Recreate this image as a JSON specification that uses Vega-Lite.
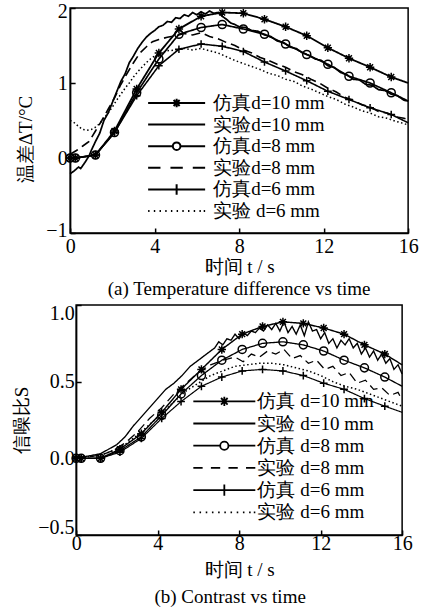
{
  "$schema": "https://vega.github.io/schema/vega-lite/v6.json",
  "padding": {"left": 12, "top": 0, "right": 5, "bottom": 0},
  "spacing": 2,
  "center": true,
  "config": {
    "font": "Liberation Serif",
    "view": {"stroke": "black", "strokeWidth": 1.5},
    "axis": {"domainColor": "black", "domainWidth": 1.5, "tickColor": "black", "tickWidth": 1.5, "tickSize": -5, "labelColor": "black", "titleColor": "black", "labelFont": "Liberation Serif", "titleFont": "Liberation Serif", "labelFontSize": 20, "titleFontSize": 19, "titleFontWeight": "normal", "grid": false, "labelFlush": false, "labelPadding": 8},
    "title": {"font": "Liberation Serif", "fontSize": 19, "fontWeight": "normal", "color": "black"}
  },
  "datasets": {
    "top": [
      {"s": "仿真d=10 mm", "t": 0, "v": 0}, {"s": "仿真d=10 mm", "t": 0.25, "v": 0}, {"s": "仿真d=10 mm", "t": 1.2, "v": 0.04}, {"s": "仿真d=10 mm", "t": 2.1, "v": 0.36}, {"s": "仿真d=10 mm", "t": 3.15, "v": 0.92}, {"s": "仿真d=10 mm", "t": 4.2, "v": 1.4}, {"s": "仿真d=10 mm", "t": 5.15, "v": 1.72}, {"s": "仿真d=10 mm", "t": 6.2, "v": 1.89}, {"s": "仿真d=10 mm", "t": 7.2, "v": 1.94}, {"s": "仿真d=10 mm", "t": 8.2, "v": 1.93}, {"s": "仿真d=10 mm", "t": 9.2, "v": 1.85}, {"s": "仿真d=10 mm", "t": 10.2, "v": 1.75}, {"s": "仿真d=10 mm", "t": 11.2, "v": 1.63}, {"s": "仿真d=10 mm", "t": 12.2, "v": 1.47}, {"s": "仿真d=10 mm", "t": 13.2, "v": 1.33}, {"s": "仿真d=10 mm", "t": 14.2, "v": 1.21}, {"s": "仿真d=10 mm", "t": 15.2, "v": 1.08}, {"s": "仿真d=10 mm", "t": 16, "v": 1.0},
      {"s": "仿真d=8 mm", "t": 0, "v": 0}, {"s": "仿真d=8 mm", "t": 0.25, "v": 0}, {"s": "仿真d=8 mm", "t": 1.2, "v": 0.04}, {"s": "仿真d=8 mm", "t": 2.1, "v": 0.34}, {"s": "仿真d=8 mm", "t": 3.15, "v": 0.87}, {"s": "仿真d=8 mm", "t": 4.2, "v": 1.32}, {"s": "仿真d=8 mm", "t": 5.15, "v": 1.65}, {"s": "仿真d=8 mm", "t": 6.2, "v": 1.74}, {"s": "仿真d=8 mm", "t": 7.2, "v": 1.78}, {"s": "仿真d=8 mm", "t": 8.2, "v": 1.72}, {"s": "仿真d=8 mm", "t": 9.2, "v": 1.65}, {"s": "仿真d=8 mm", "t": 10.2, "v": 1.52}, {"s": "仿真d=8 mm", "t": 11.2, "v": 1.38}, {"s": "仿真d=8 mm", "t": 12.2, "v": 1.25}, {"s": "仿真d=8 mm", "t": 13.2, "v": 1.09}, {"s": "仿真d=8 mm", "t": 14.2, "v": 1.0}, {"s": "仿真d=8 mm", "t": 15.2, "v": 0.87}, {"s": "仿真d=8 mm", "t": 16, "v": 0.76},
      {"s": "仿真d=6 mm", "t": 0, "v": 0}, {"s": "仿真d=6 mm", "t": 0.25, "v": 0}, {"s": "仿真d=6 mm", "t": 1.2, "v": 0.04}, {"s": "仿真d=6 mm", "t": 2.1, "v": 0.34}, {"s": "仿真d=6 mm", "t": 3.15, "v": 0.83}, {"s": "仿真d=6 mm", "t": 4.2, "v": 1.23}, {"s": "仿真d=6 mm", "t": 5.15, "v": 1.45}, {"s": "仿真d=6 mm", "t": 6.2, "v": 1.52}, {"s": "仿真d=6 mm", "t": 7.2, "v": 1.49}, {"s": "仿真d=6 mm", "t": 8.2, "v": 1.42}, {"s": "仿真d=6 mm", "t": 9.2, "v": 1.28}, {"s": "仿真d=6 mm", "t": 10.2, "v": 1.16}, {"s": "仿真d=6 mm", "t": 11.2, "v": 1.03}, {"s": "仿真d=6 mm", "t": 12.2, "v": 0.89}, {"s": "仿真d=6 mm", "t": 13.2, "v": 0.78}, {"s": "仿真d=6 mm", "t": 14.2, "v": 0.67}, {"s": "仿真d=6 mm", "t": 15.2, "v": 0.58}, {"s": "仿真d=6 mm", "t": 16, "v": 0.47},
      {"s": "实验d=10 mm", "t": 0, "v": -0.21}, {"s": "实验d=10 mm", "t": 0.2, "v": -0.17}, {"s": "实验d=10 mm", "t": 0.4, "v": -0.12}, {"s": "实验d=10 mm", "t": 0.5, "v": -0.14}, {"s": "实验d=10 mm", "t": 0.7, "v": -0.06}, {"s": "实验d=10 mm", "t": 0.9, "v": 0.03}, {"s": "实验d=10 mm", "t": 1.0, "v": 0.1}, {"s": "实验d=10 mm", "t": 1.2, "v": 0.22}, {"s": "实验d=10 mm", "t": 1.4, "v": 0.33}, {"s": "实验d=10 mm", "t": 1.6, "v": 0.5}, {"s": "实验d=10 mm", "t": 1.8, "v": 0.6}, {"s": "实验d=10 mm", "t": 2.0, "v": 0.74}, {"s": "实验d=10 mm", "t": 2.2, "v": 0.88}, {"s": "实验d=10 mm", "t": 2.4, "v": 1.02}, {"s": "实验d=10 mm", "t": 2.6, "v": 1.12}, {"s": "实验d=10 mm", "t": 2.8, "v": 1.27}, {"s": "实验d=10 mm", "t": 3.0, "v": 1.36}, {"s": "实验d=10 mm", "t": 3.2, "v": 1.46}, {"s": "实验d=10 mm", "t": 3.4, "v": 1.54}, {"s": "实验d=10 mm", "t": 3.6, "v": 1.61}, {"s": "实验d=10 mm", "t": 3.8, "v": 1.66}, {"s": "实验d=10 mm", "t": 4.0, "v": 1.7}, {"s": "实验d=10 mm", "t": 4.2, "v": 1.75}, {"s": "实验d=10 mm", "t": 4.4, "v": 1.77}, {"s": "实验d=10 mm", "t": 4.6, "v": 1.82}, {"s": "实验d=10 mm", "t": 4.8, "v": 1.81}, {"s": "实验d=10 mm", "t": 5.0, "v": 1.87}, {"s": "实验d=10 mm", "t": 5.2, "v": 1.86}, {"s": "实验d=10 mm", "t": 5.4, "v": 1.91}, {"s": "实验d=10 mm", "t": 5.6, "v": 1.89}, {"s": "实验d=10 mm", "t": 5.8, "v": 1.94}, {"s": "实验d=10 mm", "t": 6.0, "v": 1.91}, {"s": "实验d=10 mm", "t": 6.2, "v": 1.95}, {"s": "实验d=10 mm", "t": 6.4, "v": 1.92}, {"s": "实验d=10 mm", "t": 6.6, "v": 1.96}, {"s": "实验d=10 mm", "t": 6.8, "v": 1.93}, {"s": "实验d=10 mm", "t": 7.0, "v": 1.94}, {"s": "实验d=10 mm", "t": 7.2, "v": 1.89}, {"s": "实验d=10 mm", "t": 7.4, "v": 1.85}, {"s": "实验d=10 mm", "t": 7.6, "v": 1.8}, {"s": "实验d=10 mm", "t": 7.8, "v": 1.78}, {"s": "实验d=10 mm", "t": 8.0, "v": 1.75}, {"s": "实验d=10 mm", "t": 8.3, "v": 1.74}, {"s": "实验d=10 mm", "t": 8.6, "v": 1.7}, {"s": "实验d=10 mm", "t": 8.9, "v": 1.69}, {"s": "实验d=10 mm", "t": 9.2, "v": 1.64}, {"s": "实验d=10 mm", "t": 9.5, "v": 1.62}, {"s": "实验d=10 mm", "t": 9.8, "v": 1.56}, {"s": "实验d=10 mm", "t": 10.1, "v": 1.54}, {"s": "实验d=10 mm", "t": 10.4, "v": 1.48}, {"s": "实验d=10 mm", "t": 10.7, "v": 1.46}, {"s": "实验d=10 mm", "t": 11.0, "v": 1.4}, {"s": "实验d=10 mm", "t": 11.3, "v": 1.37}, {"s": "实验d=10 mm", "t": 11.6, "v": 1.32}, {"s": "实验d=10 mm", "t": 11.9, "v": 1.3}, {"s": "实验d=10 mm", "t": 12.2, "v": 1.23}, {"s": "实验d=10 mm", "t": 12.5, "v": 1.21}, {"s": "实验d=10 mm", "t": 12.8, "v": 1.14}, {"s": "实验d=10 mm", "t": 13.1, "v": 1.11}, {"s": "实验d=10 mm", "t": 13.4, "v": 1.05}, {"s": "实验d=10 mm", "t": 13.7, "v": 1.04}, {"s": "实验d=10 mm", "t": 14.0, "v": 0.98}, {"s": "实验d=10 mm", "t": 14.3, "v": 0.97}, {"s": "实验d=10 mm", "t": 14.6, "v": 0.91}, {"s": "实验d=10 mm", "t": 14.9, "v": 0.9}, {"s": "实验d=10 mm", "t": 15.2, "v": 0.85}, {"s": "实验d=10 mm", "t": 15.5, "v": 0.83}, {"s": "实验d=10 mm", "t": 15.8, "v": 0.77}, {"s": "实验d=10 mm", "t": 16, "v": 0.76},
      {"s": "实验d=8 mm", "t": 0, "v": 0.05}, {"s": "实验d=8 mm", "t": 0.3, "v": 0.1}, {"s": "实验d=8 mm", "t": 0.6, "v": 0.16}, {"s": "实验d=8 mm", "t": 0.9, "v": 0.22}, {"s": "实验d=8 mm", "t": 1.2, "v": 0.36}, {"s": "实验d=8 mm", "t": 1.5, "v": 0.5}, {"s": "实验d=8 mm", "t": 1.8, "v": 0.65}, {"s": "实验d=8 mm", "t": 2.1, "v": 0.8}, {"s": "实验d=8 mm", "t": 2.4, "v": 0.98}, {"s": "实验d=8 mm", "t": 2.7, "v": 1.13}, {"s": "实验d=8 mm", "t": 3.0, "v": 1.27}, {"s": "实验d=8 mm", "t": 3.3, "v": 1.4}, {"s": "实验d=8 mm", "t": 3.6, "v": 1.48}, {"s": "实验d=8 mm", "t": 3.9, "v": 1.55}, {"s": "实验d=8 mm", "t": 4.2, "v": 1.58}, {"s": "实验d=8 mm", "t": 4.6, "v": 1.61}, {"s": "实验d=8 mm", "t": 5.0, "v": 1.63}, {"s": "实验d=8 mm", "t": 5.4, "v": 1.66}, {"s": "实验d=8 mm", "t": 5.8, "v": 1.64}, {"s": "实验d=8 mm", "t": 6.2, "v": 1.67}, {"s": "实验d=8 mm", "t": 6.6, "v": 1.62}, {"s": "实验d=8 mm", "t": 7.0, "v": 1.59}, {"s": "实验d=8 mm", "t": 7.4, "v": 1.54}, {"s": "实验d=8 mm", "t": 7.8, "v": 1.5}, {"s": "实验d=8 mm", "t": 8.2, "v": 1.44}, {"s": "实验d=8 mm", "t": 8.6, "v": 1.4}, {"s": "实验d=8 mm", "t": 9.0, "v": 1.34}, {"s": "实验d=8 mm", "t": 9.4, "v": 1.3}, {"s": "实验d=8 mm", "t": 9.8, "v": 1.25}, {"s": "实验d=8 mm", "t": 10.2, "v": 1.21}, {"s": "实验d=8 mm", "t": 10.6, "v": 1.15}, {"s": "实验d=8 mm", "t": 11.0, "v": 1.11}, {"s": "实验d=8 mm", "t": 11.4, "v": 1.05}, {"s": "实验d=8 mm", "t": 11.8, "v": 1.0}, {"s": "实验d=8 mm", "t": 12.2, "v": 0.93}, {"s": "实验d=8 mm", "t": 12.6, "v": 0.88}, {"s": "实验d=8 mm", "t": 13.0, "v": 0.81}, {"s": "实验d=8 mm", "t": 13.4, "v": 0.77}, {"s": "实验d=8 mm", "t": 13.8, "v": 0.71}, {"s": "实验d=8 mm", "t": 14.2, "v": 0.68}, {"s": "实验d=8 mm", "t": 14.6, "v": 0.62}, {"s": "实验d=8 mm", "t": 15.0, "v": 0.6}, {"s": "实验d=8 mm", "t": 15.4, "v": 0.55}, {"s": "实验d=8 mm", "t": 15.8, "v": 0.53}, {"s": "实验d=8 mm", "t": 16, "v": 0.51},
      {"s": "实验 d=6 mm", "t": 0, "v": 0.5}, {"s": "实验 d=6 mm", "t": 0.2, "v": 0.47}, {"s": "实验 d=6 mm", "t": 0.4, "v": 0.42}, {"s": "实验 d=6 mm", "t": 0.6, "v": 0.38}, {"s": "实验 d=6 mm", "t": 0.8, "v": 0.37}, {"s": "实验 d=6 mm", "t": 1.0, "v": 0.38}, {"s": "实验 d=6 mm", "t": 1.2, "v": 0.41}, {"s": "实验 d=6 mm", "t": 1.4, "v": 0.46}, {"s": "实验 d=6 mm", "t": 1.6, "v": 0.53}, {"s": "实验 d=6 mm", "t": 1.8, "v": 0.6}, {"s": "实验 d=6 mm", "t": 2.0, "v": 0.68}, {"s": "实验 d=6 mm", "t": 2.2, "v": 0.77}, {"s": "实验 d=6 mm", "t": 2.4, "v": 0.85}, {"s": "实验 d=6 mm", "t": 2.6, "v": 0.93}, {"s": "实验 d=6 mm", "t": 2.8, "v": 1.0}, {"s": "实验 d=6 mm", "t": 3.0, "v": 1.08}, {"s": "实验 d=6 mm", "t": 3.2, "v": 1.15}, {"s": "实验 d=6 mm", "t": 3.4, "v": 1.21}, {"s": "实验 d=6 mm", "t": 3.6, "v": 1.27}, {"s": "实验 d=6 mm", "t": 3.8, "v": 1.32}, {"s": "实验 d=6 mm", "t": 4.0, "v": 1.36}, {"s": "实验 d=6 mm", "t": 4.3, "v": 1.4}, {"s": "实验 d=6 mm", "t": 4.6, "v": 1.43}, {"s": "实验 d=6 mm", "t": 5.0, "v": 1.44}, {"s": "实验 d=6 mm", "t": 5.4, "v": 1.46}, {"s": "实验 d=6 mm", "t": 5.8, "v": 1.44}, {"s": "实验 d=6 mm", "t": 6.2, "v": 1.46}, {"s": "实验 d=6 mm", "t": 6.6, "v": 1.43}, {"s": "实验 d=6 mm", "t": 7.0, "v": 1.4}, {"s": "实验 d=6 mm", "t": 7.4, "v": 1.35}, {"s": "实验 d=6 mm", "t": 7.8, "v": 1.3}, {"s": "实验 d=6 mm", "t": 8.2, "v": 1.26}, {"s": "实验 d=6 mm", "t": 8.6, "v": 1.22}, {"s": "实验 d=6 mm", "t": 9.0, "v": 1.18}, {"s": "实验 d=6 mm", "t": 9.4, "v": 1.13}, {"s": "实验 d=6 mm", "t": 9.8, "v": 1.1}, {"s": "实验 d=6 mm", "t": 10.2, "v": 1.05}, {"s": "实验 d=6 mm", "t": 10.6, "v": 1.02}, {"s": "实验 d=6 mm", "t": 11.0, "v": 0.96}, {"s": "实验 d=6 mm", "t": 11.4, "v": 0.92}, {"s": "实验 d=6 mm", "t": 11.8, "v": 0.87}, {"s": "实验 d=6 mm", "t": 12.2, "v": 0.82}, {"s": "实验 d=6 mm", "t": 12.6, "v": 0.78}, {"s": "实验 d=6 mm", "t": 13.0, "v": 0.72}, {"s": "实验 d=6 mm", "t": 13.4, "v": 0.68}, {"s": "实验 d=6 mm", "t": 13.8, "v": 0.63}, {"s": "实验 d=6 mm", "t": 14.2, "v": 0.6}, {"s": "实验 d=6 mm", "t": 14.6, "v": 0.55}, {"s": "实验 d=6 mm", "t": 15.0, "v": 0.53}, {"s": "实验 d=6 mm", "t": 15.4, "v": 0.49}, {"s": "实验 d=6 mm", "t": 15.8, "v": 0.46}, {"s": "实验 d=6 mm", "t": 16, "v": 0.44}
    ],
    "bottom": [
      {"s": "仿真 d=10 mm", "t": 0, "v": 0}, {"s": "仿真 d=10 mm", "t": 0.25, "v": 0}, {"s": "仿真 d=10 mm", "t": 1.2, "v": 0}, {"s": "仿真 d=10 mm", "t": 2.15, "v": 0.06}, {"s": "仿真 d=10 mm", "t": 3.2, "v": 0.16}, {"s": "仿真 d=10 mm", "t": 4.2, "v": 0.3}, {"s": "仿真 d=10 mm", "t": 5.15, "v": 0.45}, {"s": "仿真 d=10 mm", "t": 6.15, "v": 0.58}, {"s": "仿真 d=10 mm", "t": 7.15, "v": 0.71}, {"s": "仿真 d=10 mm", "t": 8.15, "v": 0.81}, {"s": "仿真 d=10 mm", "t": 9.15, "v": 0.86}, {"s": "仿真 d=10 mm", "t": 10.15, "v": 0.89}, {"s": "仿真 d=10 mm", "t": 11.15, "v": 0.88}, {"s": "仿真 d=10 mm", "t": 12.15, "v": 0.85}, {"s": "仿真 d=10 mm", "t": 13.15, "v": 0.81}, {"s": "仿真 d=10 mm", "t": 14.15, "v": 0.74}, {"s": "仿真 d=10 mm", "t": 15.15, "v": 0.68}, {"s": "仿真 d=10 mm", "t": 16, "v": 0.61},
      {"s": "仿真 d=8 mm", "t": 0, "v": 0}, {"s": "仿真 d=8 mm", "t": 0.25, "v": 0}, {"s": "仿真 d=8 mm", "t": 1.2, "v": 0}, {"s": "仿真 d=8 mm", "t": 2.15, "v": 0.05}, {"s": "仿真 d=8 mm", "t": 3.2, "v": 0.14}, {"s": "仿真 d=8 mm", "t": 4.2, "v": 0.28}, {"s": "仿真 d=8 mm", "t": 5.15, "v": 0.42}, {"s": "仿真 d=8 mm", "t": 6.15, "v": 0.54}, {"s": "仿真 d=8 mm", "t": 7.15, "v": 0.64}, {"s": "仿真 d=8 mm", "t": 8.15, "v": 0.71}, {"s": "仿真 d=8 mm", "t": 9.15, "v": 0.75}, {"s": "仿真 d=8 mm", "t": 10.15, "v": 0.76}, {"s": "仿真 d=8 mm", "t": 11.15, "v": 0.74}, {"s": "仿真 d=8 mm", "t": 12.15, "v": 0.7}, {"s": "仿真 d=8 mm", "t": 13.15, "v": 0.64}, {"s": "仿真 d=8 mm", "t": 14.15, "v": 0.59}, {"s": "仿真 d=8 mm", "t": 15.15, "v": 0.53}, {"s": "仿真 d=8 mm", "t": 16, "v": 0.47},
      {"s": "仿真 d=6 mm", "t": 0, "v": 0}, {"s": "仿真 d=6 mm", "t": 0.25, "v": 0}, {"s": "仿真 d=6 mm", "t": 1.2, "v": 0}, {"s": "仿真 d=6 mm", "t": 2.15, "v": 0.04}, {"s": "仿真 d=6 mm", "t": 3.2, "v": 0.13}, {"s": "仿真 d=6 mm", "t": 4.2, "v": 0.26}, {"s": "仿真 d=6 mm", "t": 5.15, "v": 0.37}, {"s": "仿真 d=6 mm", "t": 6.15, "v": 0.47}, {"s": "仿真 d=6 mm", "t": 7.15, "v": 0.53}, {"s": "仿真 d=6 mm", "t": 8.15, "v": 0.57}, {"s": "仿真 d=6 mm", "t": 9.15, "v": 0.58}, {"s": "仿真 d=6 mm", "t": 10.15, "v": 0.57}, {"s": "仿真 d=6 mm", "t": 11.15, "v": 0.54}, {"s": "仿真 d=6 mm", "t": 12.15, "v": 0.49}, {"s": "仿真 d=6 mm", "t": 13.15, "v": 0.45}, {"s": "仿真 d=6 mm", "t": 14.15, "v": 0.39}, {"s": "仿真 d=6 mm", "t": 15.15, "v": 0.34}, {"s": "仿真 d=6 mm", "t": 16, "v": 0.3},
      {"s": "实验 d=10 mm", "t": 0, "v": 0}, {"s": "实验 d=10 mm", "t": 0.4, "v": 0.01}, {"s": "实验 d=10 mm", "t": 0.8, "v": 0.02}, {"s": "实验 d=10 mm", "t": 1.2, "v": 0.03}, {"s": "实验 d=10 mm", "t": 1.6, "v": 0.06}, {"s": "实验 d=10 mm", "t": 2.0, "v": 0.09}, {"s": "实验 d=10 mm", "t": 2.4, "v": 0.14}, {"s": "实验 d=10 mm", "t": 2.8, "v": 0.21}, {"s": "实验 d=10 mm", "t": 3.2, "v": 0.27}, {"s": "实验 d=10 mm", "t": 3.6, "v": 0.33}, {"s": "实验 d=10 mm", "t": 4.0, "v": 0.39}, {"s": "实验 d=10 mm", "t": 4.4, "v": 0.45}, {"s": "实验 d=10 mm", "t": 4.8, "v": 0.49}, {"s": "实验 d=10 mm", "t": 5.2, "v": 0.54}, {"s": "实验 d=10 mm", "t": 5.6, "v": 0.6}, {"s": "实验 d=10 mm", "t": 6.0, "v": 0.64}, {"s": "实验 d=10 mm", "t": 6.4, "v": 0.68}, {"s": "实验 d=10 mm", "t": 6.8, "v": 0.72}, {"s": "实验 d=10 mm", "t": 7.0, "v": 0.76}, {"s": "实验 d=10 mm", "t": 7.2, "v": 0.74}, {"s": "实验 d=10 mm", "t": 7.4, "v": 0.78}, {"s": "实验 d=10 mm", "t": 7.6, "v": 0.77}, {"s": "实验 d=10 mm", "t": 7.8, "v": 0.81}, {"s": "实验 d=10 mm", "t": 8.0, "v": 0.78}, {"s": "实验 d=10 mm", "t": 8.2, "v": 0.82}, {"s": "实验 d=10 mm", "t": 8.4, "v": 0.8}, {"s": "实验 d=10 mm", "t": 8.6, "v": 0.83}, {"s": "实验 d=10 mm", "t": 8.8, "v": 0.82}, {"s": "实验 d=10 mm", "t": 9.0, "v": 0.85}, {"s": "实验 d=10 mm", "t": 9.2, "v": 0.83}, {"s": "实验 d=10 mm", "t": 9.4, "v": 0.87}, {"s": "实验 d=10 mm", "t": 9.6, "v": 0.84}, {"s": "实验 d=10 mm", "t": 9.8, "v": 0.88}, {"s": "实验 d=10 mm", "t": 10.0, "v": 0.83}, {"s": "实验 d=10 mm", "t": 10.2, "v": 0.89}, {"s": "实验 d=10 mm", "t": 10.4, "v": 0.82}, {"s": "实验 d=10 mm", "t": 10.6, "v": 0.86}, {"s": "实验 d=10 mm", "t": 10.8, "v": 0.81}, {"s": "实验 d=10 mm", "t": 11.0, "v": 0.87}, {"s": "实验 d=10 mm", "t": 11.2, "v": 0.8}, {"s": "实验 d=10 mm", "t": 11.4, "v": 0.89}, {"s": "实验 d=10 mm", "t": 11.6, "v": 0.83}, {"s": "实验 d=10 mm", "t": 11.8, "v": 0.84}, {"s": "实验 d=10 mm", "t": 12.0, "v": 0.78}, {"s": "实验 d=10 mm", "t": 12.2, "v": 0.82}, {"s": "实验 d=10 mm", "t": 12.4, "v": 0.75}, {"s": "实验 d=10 mm", "t": 12.6, "v": 0.78}, {"s": "实验 d=10 mm", "t": 12.8, "v": 0.72}, {"s": "实验 d=10 mm", "t": 13.0, "v": 0.77}, {"s": "实验 d=10 mm", "t": 13.2, "v": 0.74}, {"s": "实验 d=10 mm", "t": 13.4, "v": 0.78}, {"s": "实验 d=10 mm", "t": 13.6, "v": 0.72}, {"s": "实验 d=10 mm", "t": 13.8, "v": 0.75}, {"s": "实验 d=10 mm", "t": 14.0, "v": 0.68}, {"s": "实验 d=10 mm", "t": 14.2, "v": 0.72}, {"s": "实验 d=10 mm", "t": 14.4, "v": 0.66}, {"s": "实验 d=10 mm", "t": 14.6, "v": 0.7}, {"s": "实验 d=10 mm", "t": 14.8, "v": 0.64}, {"s": "实验 d=10 mm", "t": 15.0, "v": 0.68}, {"s": "实验 d=10 mm", "t": 15.2, "v": 0.62}, {"s": "实验 d=10 mm", "t": 15.4, "v": 0.65}, {"s": "实验 d=10 mm", "t": 15.6, "v": 0.58}, {"s": "实验 d=10 mm", "t": 15.8, "v": 0.61}, {"s": "实验 d=10 mm", "t": 16, "v": 0.55},
      {"s": "实验 d=8 mm", "t": 0, "v": 0}, {"s": "实验 d=8 mm", "t": 0.6, "v": 0.01}, {"s": "实验 d=8 mm", "t": 1.2, "v": 0.02}, {"s": "实验 d=8 mm", "t": 1.8, "v": 0.05}, {"s": "实验 d=8 mm", "t": 2.4, "v": 0.1}, {"s": "实验 d=8 mm", "t": 3.0, "v": 0.17}, {"s": "实验 d=8 mm", "t": 3.6, "v": 0.26}, {"s": "实验 d=8 mm", "t": 4.2, "v": 0.33}, {"s": "实验 d=8 mm", "t": 4.8, "v": 0.42}, {"s": "实验 d=8 mm", "t": 5.4, "v": 0.49}, {"s": "实验 d=8 mm", "t": 6.0, "v": 0.56}, {"s": "实验 d=8 mm", "t": 6.6, "v": 0.61}, {"s": "实验 d=8 mm", "t": 7.2, "v": 0.64}, {"s": "实验 d=8 mm", "t": 7.8, "v": 0.66}, {"s": "实验 d=8 mm", "t": 8.2, "v": 0.63}, {"s": "实验 d=8 mm", "t": 8.6, "v": 0.68}, {"s": "实验 d=8 mm", "t": 9.0, "v": 0.66}, {"s": "实验 d=8 mm", "t": 9.4, "v": 0.7}, {"s": "实验 d=8 mm", "t": 9.8, "v": 0.68}, {"s": "实验 d=8 mm", "t": 10.2, "v": 0.71}, {"s": "实验 d=8 mm", "t": 10.6, "v": 0.65}, {"s": "实验 d=8 mm", "t": 11.0, "v": 0.67}, {"s": "实验 d=8 mm", "t": 11.4, "v": 0.62}, {"s": "实验 d=8 mm", "t": 11.8, "v": 0.64}, {"s": "实验 d=8 mm", "t": 12.2, "v": 0.58}, {"s": "实验 d=8 mm", "t": 12.6, "v": 0.6}, {"s": "实验 d=8 mm", "t": 13.0, "v": 0.54}, {"s": "实验 d=8 mm", "t": 13.4, "v": 0.56}, {"s": "实验 d=8 mm", "t": 13.8, "v": 0.49}, {"s": "实验 d=8 mm", "t": 14.2, "v": 0.51}, {"s": "实验 d=8 mm", "t": 14.6, "v": 0.45}, {"s": "实验 d=8 mm", "t": 15.0, "v": 0.46}, {"s": "实验 d=8 mm", "t": 15.4, "v": 0.41}, {"s": "实验 d=8 mm", "t": 15.8, "v": 0.43}, {"s": "实验 d=8 mm", "t": 16, "v": 0.38},
      {"s": "实验 d=6 mm", "t": 0, "v": 0}, {"s": "实验 d=6 mm", "t": 0.6, "v": 0.01}, {"s": "实验 d=6 mm", "t": 1.2, "v": 0.02}, {"s": "实验 d=6 mm", "t": 1.8, "v": 0.05}, {"s": "实验 d=6 mm", "t": 2.4, "v": 0.09}, {"s": "实验 d=6 mm", "t": 3.0, "v": 0.15}, {"s": "实验 d=6 mm", "t": 3.6, "v": 0.22}, {"s": "实验 d=6 mm", "t": 4.2, "v": 0.29}, {"s": "实验 d=6 mm", "t": 4.8, "v": 0.37}, {"s": "实验 d=6 mm", "t": 5.4, "v": 0.44}, {"s": "实验 d=6 mm", "t": 6.0, "v": 0.49}, {"s": "实验 d=6 mm", "t": 6.6, "v": 0.54}, {"s": "实验 d=6 mm", "t": 7.2, "v": 0.57}, {"s": "实验 d=6 mm", "t": 7.8, "v": 0.6}, {"s": "实验 d=6 mm", "t": 8.4, "v": 0.61}, {"s": "实验 d=6 mm", "t": 9.0, "v": 0.62}, {"s": "实验 d=6 mm", "t": 9.6, "v": 0.62}, {"s": "实验 d=6 mm", "t": 10.2, "v": 0.61}, {"s": "实验 d=6 mm", "t": 10.8, "v": 0.59}, {"s": "实验 d=6 mm", "t": 11.4, "v": 0.57}, {"s": "实验 d=6 mm", "t": 12.0, "v": 0.54}, {"s": "实验 d=6 mm", "t": 12.6, "v": 0.5}, {"s": "实验 d=6 mm", "t": 13.2, "v": 0.47}, {"s": "实验 d=6 mm", "t": 13.8, "v": 0.45}, {"s": "实验 d=6 mm", "t": 14.4, "v": 0.42}, {"s": "实验 d=6 mm", "t": 15.0, "v": 0.39}, {"s": "实验 d=6 mm", "t": 15.6, "v": 0.36}, {"s": "实验 d=6 mm", "t": 16, "v": 0.34}
    ]
  },
  "vconcat": [
    {
      "width": 338,
      "height": 225,
      "title": {"text": "(a)  Temperature difference vs time", "orient": "bottom", "offset": 4},
      "data": {"name": "top"},
      "encoding": {
        "x": {"field": "t", "type": "quantitative", "scale": {"domain": [0, 16], "nice": false}, "axis": {"values": [0, 4, 8, 12, 16], "title": "时间  t / s", "titlePadding": 1}},
        "y": {"field": "v", "type": "quantitative", "scale": {"domain": [-1, 2], "nice": false}, "axis": {"values": [-1, 0, 1, 2], "title": "温差ΔT/°C", "titlePadding": 10, "titleY": 131, "labelFlush": true, "labelFlushOffset": 7}}
      },
      "layer": [
        {
          "mark": {"type": "line", "color": "black"},
          "encoding": {
            "detail": {"field": "s", "type": "nominal"},
            "strokeDash": {"field": "s", "type": "nominal", "scale": {"domain": ["仿真d=10 mm", "实验d=10 mm", "仿真d=8 mm", "实验d=8 mm", "仿真d=6 mm", "实验 d=6 mm"], "range": [[1, 0], [1, 0], [1, 0], [9, 5], [1, 0], [1.5, 2.5]]}, "legend": null},
            "strokeWidth": {"field": "s", "type": "nominal", "scale": {"domain": ["仿真d=10 mm", "实验d=10 mm", "仿真d=8 mm", "实验d=8 mm", "仿真d=6 mm", "实验 d=6 mm"], "range": [1.8, 1.2, 1.8, 1.6, 1.8, 1.4]}, "legend": null}
          }
        },
        {
          "transform": [{"filter": "indexof(datum.s, '仿真') >= 0 && datum.t < 15.9"}],
          "mark": {"type": "point", "color": "black", "filled": false, "strokeWidth": 1.5, "opacity": 1},
          "encoding": {
            "shape": {"field": "s", "type": "nominal", "scale": {"domain": ["仿真d=10 mm", "仿真d=8 mm", "仿真d=6 mm"], "range": ["M0,-1V1M-1,0H1M-0.7,-0.7L0.7,0.7M-0.7,0.7L0.7,-0.7", "circle", "M0,-1V1M-1,0H1"]}, "legend": null},
            "size": {"field": "s", "type": "nominal", "scale": {"domain": ["仿真d=10 mm", "仿真d=8 mm", "仿真d=6 mm"], "range": [70, 60, 110]}, "legend": null}
          }
        },
        {
          "transform": [{"filter": "false"}],
          "mark": {"type": "point", "color": "black", "filled": false},
          "encoding": {
            "shape": {"field": "s", "type": "nominal", "scale": {"domain": ["仿真d=10 mm", "实验d=10 mm", "仿真d=8 mm", "实验d=8 mm", "仿真d=6 mm", "实验 d=6 mm"], "range": ["M-3,0H3M0,-0.45V0.45M-0.32,-0.32L0.32,0.32M-0.32,0.32L0.32,-0.32", "M-3,0H3", "M-3,0H-0.4M0.4,0H3M0.4,0A0.4,0.4,0,1,1,-0.4,0A0.4,0.4,0,1,1,0.4,0", "M-3,0H-1.7M-0.65,0H0.65M1.7,0H3", "M-3,0H3M0,-0.55V0.55", "M-3,0H-2.85M-2.4,0H-2.25M-1.8,0H-1.65M-1.2,0H-1.05M-0.6,0H-0.45M0,0H0.15M0.6,0H0.75M1.2,0H1.35M1.8,0H1.95M2.4,0H2.55M2.85,0H3"]},
              "legend": {"orient": "none", "title": null, "legendX": 96, "legendY": 84.5, "padding": 0, "rowPadding": 0.6, "labelOffset": 26, "labelFont": "Liberation Serif", "labelFontSize": 19, "labelColor": "black", "symbolSize": 361, "symbolStrokeColor": "black", "symbolFillColor": "transparent", "symbolStrokeWidth": 2, "symbolOpacity": 1, "labelLimit": 0}}
          }
        }
      ],
      "resolve": {"scale": {"shape": "independent", "size": "independent"}, "legend": {"shape": "independent"}}
    },
    {
      "width": 326,
      "height": 230,
      "title": {"text": "(b)  Contrast vs time", "orient": "bottom", "offset": 9, "dx": -9},
      "data": {"name": "bottom"},
      "encoding": {
        "x": {"field": "t", "type": "quantitative", "scale": {"domain": [0, 16], "nice": false}, "axis": {"values": [0, 4, 8, 12, 16], "title": "时间  t / s", "titlePadding": 7, "labelPadding": 3}},
        "y": {"field": "v", "type": "quantitative", "scale": {"domain": [-0.5, 1], "nice": false}, "axis": {"values": [-0.5, 0, 0.5, 1], "format": ".1f", "title": "信噪比S", "titlePadding": 6, "labelPadding": 7, "labelFlush": true, "labelFlushOffset": 2}}
      },
      "layer": [
        {
          "mark": {"type": "line", "color": "black"},
          "encoding": {
            "detail": {"field": "s", "type": "nominal"},
            "strokeDash": {"field": "s", "type": "nominal", "scale": {"domain": ["仿真 d=10 mm", "实验 d=10 mm", "仿真 d=8 mm", "实验 d=8 mm", "仿真 d=6 mm", "实验 d=6 mm"], "range": [[1, 0], [1, 0], [1, 0], [5, 4], [1, 0], [1.5, 2.5]]}, "legend": null},
            "strokeWidth": {"field": "s", "type": "nominal", "scale": {"domain": ["仿真 d=10 mm", "实验 d=10 mm", "仿真 d=8 mm", "实验 d=8 mm", "仿真 d=6 mm", "实验 d=6 mm"], "range": [1.8, 1.2, 1.8, 1.2, 1.8, 1.4]}, "legend": null}
          }
        },
        {
          "transform": [{"filter": "indexof(datum.s, '仿真') >= 0 && datum.t < 15.9"}],
          "mark": {"type": "point", "color": "black", "filled": false, "strokeWidth": 1.5, "opacity": 1},
          "encoding": {
            "shape": {"field": "s", "type": "nominal", "scale": {"domain": ["仿真 d=10 mm", "仿真 d=8 mm", "仿真 d=6 mm"], "range": ["M0,-1V1M-1,0H1M-0.7,-0.7L0.7,0.7M-0.7,0.7L0.7,-0.7", "circle", "M0,-1V1M-1,0H1"]}, "legend": null},
            "size": {"field": "s", "type": "nominal", "scale": {"domain": ["仿真 d=10 mm", "仿真 d=8 mm", "仿真 d=6 mm"], "range": [70, 60, 110]}, "legend": null}
          }
        },
        {
          "transform": [{"filter": "false"}],
          "mark": {"type": "point", "color": "black", "filled": false},
          "encoding": {
            "shape": {"field": "s", "type": "nominal", "scale": {"domain": ["仿真 d=10 mm", "实验 d=10 mm", "仿真 d=8 mm", "实验 d=8 mm", "仿真 d=6 mm", "实验 d=6 mm"], "range": ["M-3,0H3M0,-0.45V0.45M-0.32,-0.32L0.32,0.32M-0.32,0.32L0.32,-0.32", "M-3,0H3", "M-3,0H-0.4M0.4,0H3M0.4,0A0.4,0.4,0,1,1,-0.4,0A0.4,0.4,0,1,1,0.4,0", "M-3,0H-2.1M-1.3,0H-0.4M0.4,0H1.3M2.1,0H3", "M-3,0H3M0,-0.55V0.55", "M-3,0H-2.85M-2.4,0H-2.25M-1.8,0H-1.65M-1.2,0H-1.05M-0.6,0H-0.45M0,0H0.15M0.6,0H0.75M1.2,0H1.35M1.8,0H1.95M2.4,0H2.55M2.85,0H3"]},
              "legend": {"orient": "none", "title": null, "legendX": 136.7, "legendY": 84.8, "padding": 0, "rowPadding": 0.2, "labelOffset": 21.6, "labelFont": "Liberation Serif", "labelFontSize": 19, "labelColor": "black", "symbolSize": 427, "symbolStrokeColor": "black", "symbolFillColor": "transparent", "symbolStrokeWidth": 1.8, "symbolOpacity": 1, "labelLimit": 0}}
          }
        }
      ],
      "resolve": {"scale": {"shape": "independent", "size": "independent"}, "legend": {"shape": "independent"}}
    }
  ]
}
